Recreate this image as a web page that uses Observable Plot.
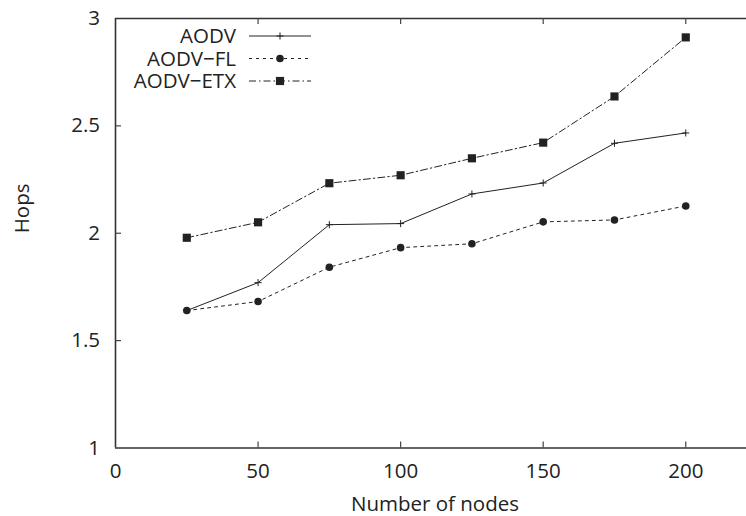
<!DOCTYPE html>
<html><head><meta charset="utf-8">
<script src="https://cdn.jsdelivr.net/npm/d3@7"></script>
<script src="https://cdn.jsdelivr.net/npm/@observablehq/plot@0.6"></script>
<style>body{margin:0;background:#fff}</style>
</head><body><div id="chart"></div>
<script>
const nodes = [25, 50, 75, 100, 125, 150, 175, 200];
const aodv = [1.64, 1.77, 2.04, 2.045, 2.183, 2.234, 2.419, 2.467];
const aodvFL = [1.64, 1.682, 1.842, 1.933, 1.951, 2.053, 2.062, 2.127];
const aodvETX = [1.979, 2.051, 2.233, 2.27, 2.349, 2.422, 2.637, 2.912];
const seriesNames = ["AODV", "AODV\u2212FL", "AODV\u2212ETX"];
const xTicks = [0, 50, 100, 150, 200];
const yTicks = [1, 1.5, 2, 2.5, 3];

const W = 746, H = 516, mL = 115, mT = 18, mB = 68.5, mR = 0;
const frameH = H - mT - mB, frameW = W - mL - mR;
const ink = "#222";
const FS = 20.5;
const styles = [
  {dash: null, symbol: "plus", r: 2.4, fill: "none", stroke: ink},
  {dash: "3,4", symbol: "circle", r: 3.8, fill: ink, stroke: "none"},
  {dash: "7,3,1.5,3", symbol: "square", r: 4.6, fill: ink, stroke: "none"}
];
const allSeries = [aodv, aodvFL, aodvETX];
const rows = [];
allSeries.forEach((vals, si) => vals.forEach((v, i) => rows.push({series: seriesNames[si], x: nodes[i], y: v, si})));

const marks = [];
allSeries.forEach((vals, si) => {
  const data = rows.filter(d => d.si === si);
  const s = styles[si];
  marks.push(Plot.line(data, {x: "x", y: "y", stroke: ink, strokeWidth: 1, strokeDasharray: s.dash}));
});
allSeries.forEach((vals, si) => {
  const data = rows.filter(d => d.si === si);
  const s = styles[si];
  marks.push(Plot.dot(data, {x: "x", y: "y", symbol: s.symbol, r: s.r, fill: s.fill, stroke: s.stroke, strokeWidth: 1}));
});

const fmt = d => String(d);
const plot = Plot.plot({
  width: W, height: H,
  marginLeft: mL, marginTop: mT, marginBottom: mB, marginRight: mR,
  style: {fontFamily: "'Open Sans', sans-serif", fontSize: FS + "px", color: ink, background: "#fff", overflow: "visible"},
  x: {domain: [0, 221.3]},
  y: {domain: [1, 3]},
  marks: [
    ...marks,
    Plot.ruleY([1, 3], {stroke: "#333", strokeWidth: 1.6}),
    Plot.ruleX([0], {stroke: "#333", strokeWidth: 1.6}),
    Plot.tickX(xTicks.filter(d => d > 0), {x: d => d, insetTop: frameH - 6, stroke: "#444", strokeWidth: 1.2}),
    Plot.tickX(xTicks.filter(d => d > 0), {x: d => d, insetBottom: frameH - 6, stroke: "#444", strokeWidth: 1.2}),
    Plot.tickY(yTicks.filter(d => d > 1 && d < 3), {y: d => d, insetRight: frameW - 6, stroke: "#444", strokeWidth: 1.2}),
    Plot.axisX(xTicks, {tickSize: 0, tickPadding: 15.5, label: null, fill: ink, tickFormat: fmt, fontSize: FS}),
    Plot.axisY(yTicks, {tickSize: 0, tickPadding: 15.5, label: null, fill: ink, tickFormat: fmt, fontSize: FS}),
    Plot.text(["Hops"], {text: d => d, frameAnchor: "left", dx: -93, rotate: -90, fill: ink, fontSize: FS}),
    Plot.text(["Number of nodes"], {text: d => d, frameAnchor: "bottom", dx: 4, dy: 63, fill: ink, fontSize: FS})
  ]
});

// legend
const svg = d3.select(plot);
const lg = svg.append("g").attr("font-family", "'Open Sans', sans-serif").attr("font-size", FS);
const rowY = [36, 58.5, 81];
seriesNames.forEach((name, i) => {
  const s = styles[i];
  const y = rowY[i];
  lg.append("text").attr("x", 236).attr("y", y).attr("dy", "0.35em").attr("text-anchor", "end").attr("fill", ink).text(name);
  lg.append("line").attr("x1", 249).attr("x2", 311).attr("y1", y).attr("y2", y)
    .attr("stroke", ink).attr("stroke-width", 1).attr("stroke-dasharray", s.dash);
  const sym = {plus: d3.symbolPlus, circle: d3.symbolCircle, square: d3.symbolSquare}[s.symbol];
  lg.append("path").attr("transform", `translate(280,${y})`)
    .attr("d", d3.symbol(sym, Math.PI * s.r * s.r)())
    .attr("fill", s.fill).attr("stroke", s.stroke).attr("stroke-width", 1);
});

document.getElementById("chart").appendChild(plot);
</script>
</body></html>
